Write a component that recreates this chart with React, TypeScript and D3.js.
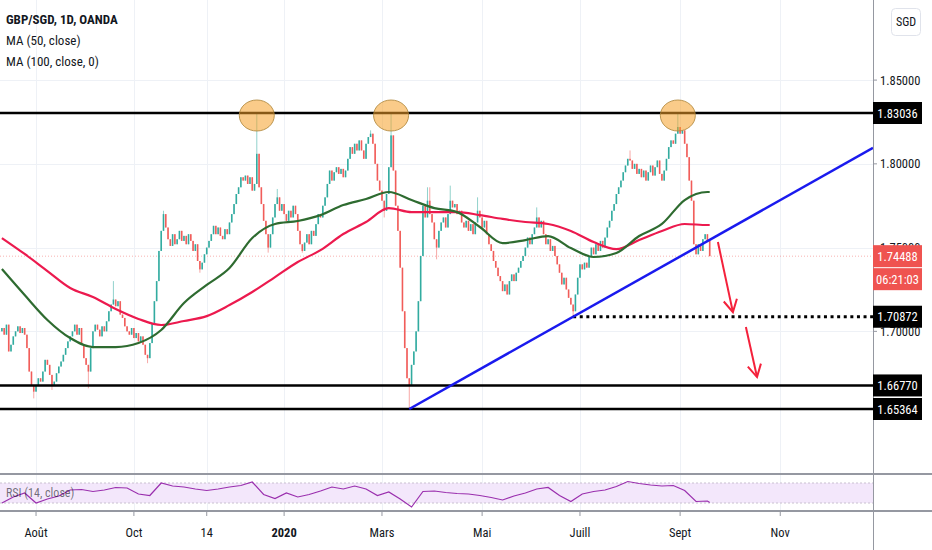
import React, { useEffect, useRef } from "react";
import * as d3 from "d3";

// first bar on screen, bars are weekdays from here
const START_DATE = "2019-07-11";
const FIRST_OPEN = 1.7;

// daily closes (open = previous close)
const closesJulSep19 = [
  1.702, 1.698, 1.704, 1.688, 1.692, 1.697, 1.7, 1.703, 1.699, 1.702,
  1.698, 1.69, 1.676, 1.668, 1.664, 1.668, 1.672, 1.67, 1.676, 1.683,
  1.68, 1.674, 1.668, 1.67, 1.675, 1.679, 1.682, 1.686, 1.69, 1.694,
  1.697, 1.7, 1.704, 1.698, 1.702, 1.692, 1.684, 1.68, 1.676, 1.69,
  1.7, 1.704, 1.701, 1.697, 1.703, 1.7, 1.706, 1.712, 1.716, 1.719,
  1.715, 1.718, 1.71, 1.708, 1.703, 1.7, 1.698, 1.702,
];
const closesOctDec19 = [
  1.696, 1.699,
  1.694, 1.697, 1.692, 1.686, 1.684, 1.693, 1.705, 1.718, 1.73, 1.748,
  1.76, 1.77, 1.762, 1.755, 1.751, 1.758, 1.752, 1.755, 1.76, 1.754,
  1.757, 1.752, 1.758, 1.754, 1.748, 1.752, 1.742, 1.737, 1.741, 1.746,
  1.75, 1.754, 1.758, 1.763, 1.758, 1.762, 1.757, 1.755, 1.761, 1.758,
  1.765, 1.77, 1.776, 1.782, 1.786, 1.792, 1.79, 1.793, 1.788, 1.792,
  1.784, 1.788, 1.806, 1.786, 1.776, 1.766, 1.758, 1.75, 1.758, 1.768,
  1.776, 1.78, 1.772, 1.776,
];
const closesJanMar20 = [
  1.77, 1.766, 1.772, 1.768, 1.775, 1.77,
  1.76, 1.752, 1.748, 1.753, 1.758, 1.752, 1.76, 1.757, 1.764, 1.77,
  1.768, 1.775, 1.78, 1.788, 1.796, 1.79, 1.795, 1.798, 1.794, 1.797,
  1.792, 1.796, 1.803, 1.81, 1.806, 1.812, 1.808, 1.814, 1.808, 1.803,
  1.812, 1.816, 1.818, 1.812, 1.8, 1.79, 1.784, 1.778, 1.772, 1.782,
  1.798, 1.817, 1.796, 1.775, 1.76, 1.738, 1.712, 1.69, 1.672, 1.668,
  1.68, 1.688, 1.7, 1.718, 1.745, 1.775, 1.768, 1.778, 1.77,
];
const closesAprJun20 = [
  1.765,
  1.755, 1.75, 1.76, 1.765, 1.768, 1.762, 1.77, 1.778, 1.774, 1.776,
  1.77, 1.772, 1.765, 1.762, 1.766, 1.76, 1.764, 1.758, 1.765, 1.772,
  1.768, 1.762, 1.766, 1.758, 1.752, 1.748, 1.742, 1.738, 1.733, 1.73,
  1.724, 1.728, 1.722, 1.73, 1.734, 1.73, 1.735, 1.738, 1.742, 1.745,
  1.75, 1.756, 1.752, 1.758, 1.762, 1.768, 1.762, 1.766, 1.758, 1.752,
  1.755, 1.748, 1.751, 1.745, 1.74, 1.735, 1.728, 1.732, 1.725, 1.72,
  1.716, 1.712, 1.722, 1.732,
];
const closesJulSep20 = [
  1.74, 1.737, 1.741, 1.738, 1.745, 1.75,
  1.746, 1.752, 1.748, 1.754, 1.75, 1.756, 1.762, 1.766, 1.772, 1.776,
  1.782, 1.786, 1.79, 1.795, 1.799, 1.803, 1.802, 1.797, 1.8, 1.794,
  1.797, 1.792, 1.796, 1.79, 1.795, 1.799, 1.793, 1.798, 1.802, 1.794,
  1.79, 1.796, 1.803, 1.81, 1.814, 1.812, 1.818, 1.822, 1.818, 1.82,
  1.812, 1.804, 1.79, 1.778, 1.752, 1.746, 1.752, 1.748, 1.755, 1.758,
  1.754, 1.74488,
];

// wicks that stand out (bar number -> price)
const highWicks: Record<number, number> = {
  49: 1.73, 71: 1.772, 112: 1.8304, 121: 1.785, 162: 1.82, 171: 1.8304,
  187: 1.786, 188: 1.786, 197: 1.787, 209: 1.78, 235: 1.774, 276: 1.808, 297: 1.8304,
};
const lowWicks: Record<number, number> = {
  14: 1.66, 22: 1.665, 38: 1.666, 64: 1.681, 87: 1.735, 117: 1.747, 132: 1.747,
  168: 1.768, 179: 1.65364, 191: 1.743, 222: 1.722, 251: 1.70872,
};

// moving averages, one value every 10 bars (last one on the last bar)
const MA_STEP = 10;
const ma50Values = [
  1.7372, 1.7217, 1.7068, 1.696, 1.6906, 1.6906, 1.693, 1.7008, 1.7169, 1.7277,
  1.7378, 1.7557, 1.7641, 1.7659, 1.7694, 1.7754, 1.779, 1.7832, 1.7784, 1.7736,
  1.7712, 1.7623, 1.7527, 1.7545, 1.7569, 1.7497, 1.7444, 1.7468, 1.7569, 1.7641,
  1.7784, 1.7832, 1.7832,
];
const ma100Values = [
  1.7557, 1.7462, 1.736, 1.7259, 1.7205, 1.7133, 1.7074, 1.7038, 1.7062, 1.7091,
  1.7157, 1.7235, 1.7324, 1.7414, 1.7485, 1.7581, 1.7653, 1.7736, 1.7712, 1.7712,
  1.7712, 1.7694, 1.7671, 1.7653, 1.7641, 1.7599, 1.7533, 1.7491, 1.7545, 1.7599,
  1.7641, 1.7635, 1.7635,
];

// RSI(14), one value every 5 bars
const RSI_STEP = 5;
const rsiValues = [
  30, 42, 50, 30, 38, 44, 56, 57, 53, 56, 61, 60, 48, 45, 70, 64, 62, 58, 55, 58,
  62, 65, 72, 47, 39, 50, 42, 47, 54, 62, 58, 64, 58, 45, 52, 38, 22, 53, 54, 51,
  49, 48, 45, 41, 36, 44, 50, 58, 61, 45, 33, 48, 53, 56, 63, 73, 69, 66, 64, 65,
  55, 33, 34, 31,
];

const priceTicks = [1.85, 1.8, 1.75, 1.7];
const timeTicks = [
  { label: "Août", date: "2019-08-01" },
  { label: "Oct", date: "2019-10-01" },
  { label: "14", date: "2019-11-14" },
  { label: "2020", date: "2020-01-01" },
  { label: "Mars", date: "2020-03-02" },
  { label: "Mai", date: "2020-05-01" },
  { label: "Juill", date: "2020-07-01" },
  { label: "Sept", date: "2020-09-01" },
  { label: "Nov", date: "2020-11-02" },
];

// drawings on the chart
const levels = [1.83036, 1.6677, 1.65364];
const supportLevel = { bar: 251, price: 1.70872 };
const lastPrice = 1.74488;
const countdown = "06:21:03";
const trendAnchors = [
  { bar: 179, price: 1.65364 },
  { bar: 251, price: 1.70872 },
];
const circledBars = [112, 171, 297];
const arrows = [
  [{ bar: 314.6, price: 1.7533 }, { bar: 321.2, price: 1.7115 }],
  [{ bar: 326.9, price: 1.7026 }, { bar: 331.8, price: 1.6727 }],
];

const App: React.FC = () => {
  const ref = useRef<SVGSVGElement | null>(null);

  useEffect(() => {
    document.body.style.margin = "0";
    const svg = d3.select(ref.current);
    svg.selectAll("*").remove();

    const W = 932,
      H = 550;
    const plotRight = 873;
    const mainBottom = 474;
    const rsiBottom = 511;
    const font = "'Liberation Sans Narrow', 'Roboto Condensed', 'Arial Narrow', 'Liberation Sans', sans-serif";
    const textColor = "#131722";

    const closes = [
      ...closesJulSep19,
      ...closesOctDec19,
      ...closesJanMar20,
      ...closesAprJun20,
      ...closesJulSep20,
    ];
    const last = closes.length - 1;
    const candles = closes.map((c, i) => {
      const o = i === 0 ? FIRST_OPEN : closes[i - 1];
      return {
        i,
        o,
        c,
        h: Math.max(o, c, highWicks[i] ?? 0),
        l: Math.min(o, c, lowWicks[i] ?? 9),
      };
    });

    const x = d3.scaleLinear().domain([0, last]).range([1.9, 709.7]);
    const y = d3.scaleLinear().domain([1.83036, 1.65364]).range([113, 409]);
    const yRsi = d3.scaleLinear().domain([70, 30]).range([483, 503]);

    // weekday bar number of a date
    const t0 = new Date(START_DATE + "T00:00:00Z");
    const barOf = (s: string) => {
      const d = new Date(s + "T00:00:00Z");
      const cur = new Date(t0);
      let n = 0;
      while (cur < d) {
        cur.setUTCDate(cur.getUTCDate() + 1);
        const w = cur.getUTCDay();
        if (w !== 0 && w !== 6) n++;
      }
      return n;
    };

    svg.append("rect").attr("width", W).attr("height", H).attr("fill", "#fff");
    const defs = svg.append("defs");
    defs
      .append("clipPath")
      .attr("id", "mainClip")
      .append("rect")
      .attr("width", plotRight)
      .attr("height", mainBottom);
    defs
      .append("clipPath")
      .attr("id", "rsiClip")
      .append("rect")
      .attr("y", mainBottom)
      .attr("width", plotRight)
      .attr("height", rsiBottom - mainBottom);

    // grid
    const grid = svg.append("g").attr("stroke", "#eef1f6").attr("stroke-width", 1);
    timeTicks.forEach((t) => {
      const xx = Math.round(x(barOf(t.date))) + 0.5;
      grid.append("line").attr("x1", xx).attr("x2", xx).attr("y1", 0).attr("y2", rsiBottom);
    });
    priceTicks.forEach((p) => {
      const yy = Math.round(y(p)) + 0.5;
      grid.append("line").attr("x1", 0).attr("x2", plotRight).attr("y1", yy).attr("y2", yy);
    });

    const main = svg.append("g").attr("clip-path", "url(#mainClip)");

    // last price line
    main
      .append("line")
      .attr("x1", 0)
      .attr("x2", plotRight)
      .attr("y1", y(lastPrice))
      .attr("y2", y(lastPrice))
      .attr("stroke", "#ef5350")
      .attr("stroke-opacity", 0.45)
      .attr("stroke-dasharray", "1,2");

    // candles
    const up = "#26a69a",
      down = "#ef5350";
    main
      .append("g")
      .selectAll("line")
      .data(candles)
      .enter()
      .append("line")
      .attr("x1", (d) => x(d.i))
      .attr("x2", (d) => x(d.i))
      .attr("y1", (d) => y(d.h))
      .attr("y2", (d) => y(d.l))
      .attr("stroke", (d) => (d.c >= d.o ? up : down))
      .attr("stroke-opacity", 0.5)
      .attr("stroke-width", 1);
    main
      .append("g")
      .selectAll("rect")
      .data(candles)
      .enter()
      .append("rect")
      .attr("x", (d) => x(d.i) - 0.8)
      .attr("width", 1.6)
      .attr("y", (d) => y(Math.max(d.o, d.c)))
      .attr("height", (d) => Math.max(0.8, Math.abs(y(d.o) - y(d.c))))
      .attr("fill", (d) => (d.c >= d.o ? up : down))
      .attr("fill-opacity", 0.9);

    // moving averages
    const maLine = d3
      .line<number>()
      .x((_, i) => x(Math.min(i * MA_STEP, last)))
      .y((d) => y(d))
      .curve(d3.curveMonotoneX);
    main
      .append("path")
      .attr("d", maLine(ma100Values))
      .attr("fill", "none")
      .attr("stroke", "#ec1a4e")
      .attr("stroke-width", 2.2);
    main
      .append("path")
      .attr("d", maLine(ma50Values))
      .attr("fill", "none")
      .attr("stroke", "#2e6b30")
      .attr("stroke-width", 2.2);

    // horizontal levels
    levels.forEach((p) => {
      main
        .append("line")
        .attr("x1", 0)
        .attr("x2", plotRight)
        .attr("y1", y(p))
        .attr("y2", y(p))
        .attr("stroke", "#000")
        .attr("stroke-width", 2.5);
    });
    main
      .append("line")
      .attr("x1", x(supportLevel.bar))
      .attr("x2", plotRight)
      .attr("y1", y(supportLevel.price))
      .attr("y2", y(supportLevel.price))
      .attr("stroke", "#000")
      .attr("stroke-width", 3)
      .attr("stroke-dasharray", "3,3.6");

    // trend line
    const [a, b] = trendAnchors;
    const slope = (b.price - a.price) / (b.bar - a.bar);
    const endBar = x.invert(plotRight);
    main
      .append("line")
      .attr("x1", x(a.bar))
      .attr("y1", y(a.price))
      .attr("x2", x(endBar))
      .attr("y2", y(a.price + slope * (endBar - a.bar)))
      .attr("stroke", "#1a1aee")
      .attr("stroke-width", 2.5);

    // circled tops
    circledBars.forEach((bar) => {
      main
        .append("ellipse")
        .attr("cx", x(bar))
        .attr("cy", y(levels[0]) + 2.5)
        .attr("rx", 17.5)
        .attr("ry", 15.5)
        .attr("fill", "rgba(245,160,40,0.55)")
        .attr("stroke", "rgba(175,135,60,0.85)")
        .attr("stroke-width", 1);
    });

    // red arrows
    arrows.forEach(([p0, p1]) => {
      const x0 = x(p0.bar),
        y0 = y(p0.price),
        x1 = x(p1.bar),
        y1 = y(p1.price);
      const ang = Math.atan2(y1 - y0, x1 - x0);
      const len = 14,
        spread = 0.5;
      const g = main.append("g").attr("stroke", "#f4213b").attr("stroke-width", 2).attr("fill", "none");
      g.append("line").attr("x1", x0).attr("y1", y0).attr("x2", x1).attr("y2", y1);
      g.append("path").attr(
        "d",
        `M${x1 - len * Math.cos(ang - spread)},${y1 - len * Math.sin(ang - spread)}L${x1},${y1}L${
          x1 - len * Math.cos(ang + spread)
        },${y1 - len * Math.sin(ang + spread)}`
      );
    });

    // RSI pane
    const rsiG = svg.append("g").attr("clip-path", "url(#rsiClip)");
    rsiG
      .append("rect")
      .attr("x", 0)
      .attr("width", plotRight)
      .attr("y", yRsi(70))
      .attr("height", yRsi(30) - yRsi(70))
      .attr("fill", "#f3e7fb");
    [70, 30].forEach((v) => {
      rsiG
        .append("line")
        .attr("x1", 0)
        .attr("x2", plotRight)
        .attr("y1", yRsi(v))
        .attr("y2", yRsi(v))
        .attr("stroke", "#c9c0d0")
        .attr("stroke-dasharray", "2,2");
    });
    rsiG
      .append("path")
      .attr(
        "d",
        d3
          .line<number>()
          .x((_, i) => x(Math.min(i * RSI_STEP, last)))
          .y((d) => yRsi(d))(rsiValues)
      )
      .attr("fill", "none")
      .attr("stroke", "#9a2fae")
      .attr("stroke-width", 1.2);
    svg
      .append("text")
      .attr("x", 6)
      .attr("y", 497)
      .attr("font-family", font)
      .attr("font-size", 12)
      .attr("fill", textColor)
      .attr("fill-opacity", 0.6)
      .text("RSI (14, close)");

    // pane borders
    [mainBottom, rsiBottom].forEach((yy) => {
      svg
        .append("line")
        .attr("x1", 0)
        .attr("x2", W)
        .attr("y1", yy)
        .attr("y2", yy)
        .attr("stroke", "#9598a1")
        .attr("stroke-width", 2);
    });
    svg
      .append("line")
      .attr("x1", plotRight + 0.5)
      .attr("x2", plotRight + 0.5)
      .attr("y1", 0)
      .attr("y2", H)
      .attr("stroke", "#9598a1");

    // time axis
    timeTicks.forEach((t) => {
      const xx = x(barOf(t.date));
      svg
        .append("line")
        .attr("x1", xx)
        .attr("x2", xx)
        .attr("y1", rsiBottom + 1)
        .attr("y2", rsiBottom + 5)
        .attr("stroke", "#9598a1");
      svg
        .append("text")
        .attr("x", xx)
        .attr("y", 537)
        .attr("text-anchor", "middle")
        .attr("font-family", font)
        .attr("font-size", 12.5)
        .attr("font-weight", t.label === "2020" ? 700 : 400)
        .attr("fill", textColor)
        .text(t.label);
    });

    // price axis ticks
    priceTicks.forEach((p) => {
      svg
        .append("line")
        .attr("x1", plotRight)
        .attr("x2", plotRight + 4)
        .attr("y1", y(p))
        .attr("y2", y(p))
        .attr("stroke", "#9598a1");
      svg
        .append("text")
        .attr("x", plotRight + 7)
        .attr("y", y(p) + 4.5)
        .attr("font-family", font)
        .attr("font-size", 12.5)
        .attr("fill", textColor)
        .text(d3.format(".5f")(p));
    });

    // price labels
    const tag = (cy: number, label: string, fill: string) => {
      svg
        .append("rect")
        .attr("x", plotRight)
        .attr("y", cy - 11)
        .attr("width", 49)
        .attr("height", 22)
        .attr("fill", fill);
      svg
        .append("text")
        .attr("x", plotRight + 24.5)
        .attr("y", cy + 4.5)
        .attr("text-anchor", "middle")
        .attr("font-family", font)
        .attr("font-size", 12.5)
        .attr("fill", "#fff")
        .text(label);
    };
    [...levels, supportLevel.price].forEach((p) => tag(y(p), d3.format(".5f")(p), "#000"));
    tag(y(lastPrice), d3.format(".5f")(lastPrice), "#ef5350");
    tag(y(lastPrice) + 23, countdown, "#ef5350");

    // currency button
    svg
      .append("rect")
      .attr("x", 891.5)
      .attr("y", 8.5)
      .attr("width", 29)
      .attr("height", 27)
      .attr("rx", 4)
      .attr("fill", "#fff")
      .attr("stroke", "#e0e3eb");
    svg
      .append("text")
      .attr("x", 906)
      .attr("y", 26)
      .attr("text-anchor", "middle")
      .attr("font-family", font)
      .attr("font-size", 12)
      .attr("fill", textColor)
      .text("SGD");

    // legend
    const legend = [
      { text: "GBP/SGD, 1D, OANDA", bold: true },
      { text: "MA (50, close)", bold: false },
      { text: "MA (100, close, 0)", bold: false },
    ];
    legend.forEach((l, i) => {
      svg
        .append("text")
        .attr("x", 6)
        .attr("y", 24 + i * 21)
        .attr("font-family", font)
        .attr("font-size", 13)
        .attr("font-weight", l.bold ? 700 : 400)
        .attr("fill", textColor)
        .text(l.text);
    });
  }, []);

  return <svg ref={ref} width={932} height={550} style={{ display: "block" }}></svg>;
};

export default App;
